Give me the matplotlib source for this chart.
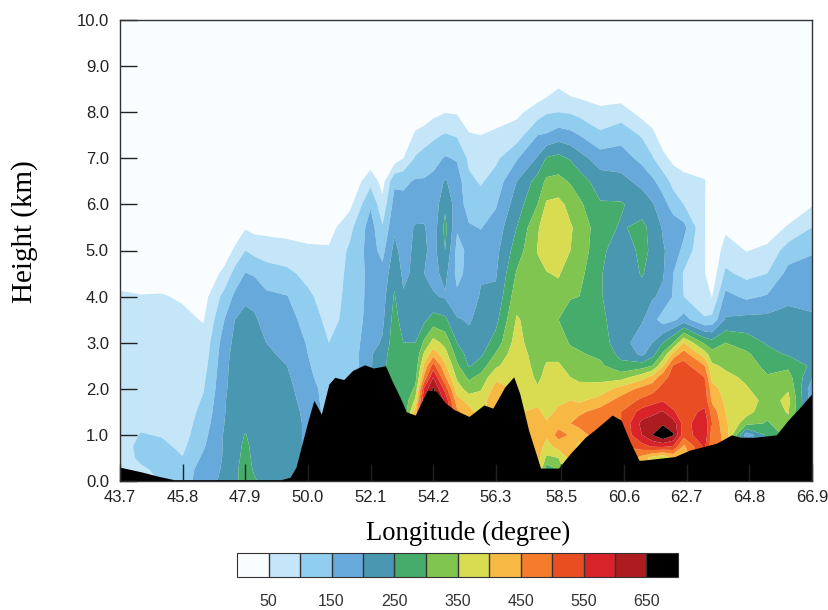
import numpy as np
import matplotlib
matplotlib.use("Agg")
import matplotlib.pyplot as plt

x_ticks = [43.7, 45.8, 47.9, 50.0, 52.1, 54.2, 56.3, 58.5, 60.6, 62.7, 64.8, 66.9]
y_ticks = [0, 1, 2, 3, 4, 5, 6, 7, 8, 9, 10]
bar_ticks = [50, 150, 250, 350, 450, 550, 650]

levels = [0, 50, 100, 150, 200, 250, 300, 350, 400, 450, 500, 550, 600, 650, 2000]
colors = ["#F9FDFF", "#C4E6F8", "#90CDEE", "#68A9DC", "#4A97B1", "#45AC6B", "#80C54F",
          "#D9DC50", "#F7B944", "#F57C2C", "#E84E22", "#D8232A", "#AD1C1F", "#000000"]

# terrain profile
terrain_lon = [43.7, 44.4, 45.0, 45.5, 45.8, 49.1, 49.4, 49.6, 49.8, 50.0, 50.2, 50.45, 50.7, 50.9, 51.2,
               51.5, 51.9, 52.2, 52.6, 52.8, 53.1, 53.3, 53.6, 53.8, 54.0, 54.3, 54.6, 54.9, 55.4, 55.6,
               55.9, 56.2, 56.6, 56.9, 57.1, 57.4, 57.8, 58.4, 58.8, 59.3, 59.6, 60.2, 60.5, 60.8, 61.1,
               61.2, 62.3, 62.8, 63.7, 64.2, 64.5, 65.0, 65.7, 66.1, 66.5, 66.9]
terrain_h = [0.3, 0.2, 0.1, 0.03, 0.03, 0.03, 0.08, 0.3, 0.8, 1.3, 1.75, 1.45, 2.1, 2.25, 2.2,
             2.4, 2.52, 2.45, 2.5, 2.2, 1.8, 1.5, 1.43, 1.7, 1.97, 1.95, 1.7, 1.55, 1.4, 1.5,
             1.65, 1.58, 2.04, 2.26, 1.9, 1.1, 0.28, 0.28, 0.6, 0.95, 1.1, 1.43, 1.32, 0.85, 0.45,
             0.45, 0.53, 0.67, 0.82, 1.0, 0.95, 0.95, 1.0, 1.32, 1.6, 1.9]

heights = [0, 0.25, 0.5, 0.75, 1, 1.25, 1.5, 1.75, 2, 2.25, 2.5, 2.75, 3, 3.5, 4, 4.5, 5, 5.5, 6, 6.5, 7, 7.5, 8, 8.5, 9, 10]
lons = [43.7, 44.4, 45.1, 45.8, 46.5, 47.2, 47.55, 47.9, 48.2, 48.6, 49.3, 50.0, 50.7, 51.4, 52.1,
        52.5, 52.9, 53.2, 53.6, 53.9, 54.2, 54.6, 55.0, 55.4, 55.8, 56.3, 57.0, 57.7, 58.0,
        58.4, 58.8, 59.1, 59.8, 60.5, 61.2, 61.55, 61.9, 62.25, 62.6, 63.3, 63.55, 64.0, 64.7, 65.4, 66.1, 66.9]

# one row per longitude, going up in height
refl = np.array([
    [60, 60, 70, 75, 75, 75, 75, 75, 75, 75, 75, 75, 75, 70, 57, 30, 15, 5, 0, 0, 0, 0, 0, 0, 0, 0],
    [70, 90, 112, 115, 103, 90, 80, 78, 76, 75, 75, 75, 75, 70, 52, 30, 15, 5, 0, 0, 0, 0, 0, 0, 0, 0],
    [105, 115, 115, 110, 97, 85, 80, 78, 75, 75, 75, 75, 75, 70, 53, 30, 15, 5, 0, 0, 0, 0, 0, 0, 0, 0],
    [115, 112, 102, 90, 80, 75, 72, 70, 70, 70, 70, 70, 68, 60, 45, 25, 10, 0, 0, 0, 0, 0, 0, 0, 0, 0],
    [190, 180, 160, 145, 135, 125, 115, 105, 97, 90, 80, 72, 65, 47, 30, 15, 5, 0, 0, 0, 0, 0, 0, 0, 0, 0],
    [205, 205, 205, 205, 205, 200, 197, 195, 190, 187, 185, 180, 175, 150, 118, 62, 25, 5, 0, 0, 0, 0, 0, 0, 0, 0],
    [240, 240, 235, 232, 232, 230, 228, 228, 226, 224, 222, 218, 212, 200, 160, 118, 58, 20, 0, 0, 0, 0, 0, 0, 0, 0],
    [270, 270, 265, 260, 252, 240, 238, 235, 232, 230, 228, 225, 222, 212, 192, 152, 100, 45, 10, 0, 0, 0, 0, 0, 0, 0],
    [255, 245, 240, 238, 236, 235, 234, 232, 230, 228, 225, 222, 218, 208, 185, 145, 85, 35, 5, 0, 0, 0, 0, 0, 0, 0],
    [235, 235, 235, 235, 235, 235, 232, 230, 228, 225, 215, 207, 200, 180, 160, 125, 75, 35, 5, 0, 0, 0, 0, 0, 0, 0],
    [225, 225, 225, 225, 225, 225, 225, 222, 215, 208, 200, 192, 187, 170, 152, 112, 70, 30, 5, 0, 0, 0, 0, 0, 0, 0],
    [190, 190, 190, 190, 190, 190, 185, 175, 170, 162, 156, 150, 145, 130, 110, 85, 58, 30, 5, 0, 0, 0, 0, 0, 0, 0],
    [130, 130, 130, 130, 130, 130, 130, 130, 130, 120, 112, 105, 100, 85, 75, 68, 56, 30, 10, 0, 0, 0, 0, 0, 0, 0],
    [130, 130, 130, 130, 130, 130, 130, 130, 130, 130, 115, 115, 115, 115, 115, 112, 108, 85, 35, 5, 0, 0, 0, 0, 0, 0],
    [195, 195, 195, 195, 195, 195, 195, 195, 195, 195, 195, 195, 185, 170, 165, 165, 170, 172, 145, 85, 15, 0, 0, 0, 0, 0],
    [235, 235, 235, 235, 235, 235, 235, 235, 235, 235, 235, 225, 205, 190, 180, 165, 135, 105, 65, 30, 5, 0, 0, 0, 0, 0],
    [270, 270, 270, 270, 270, 270, 270, 270, 270, 280, 285, 285, 280, 270, 255, 235, 215, 190, 170, 140, 20, 0, 0, 0, 0, 0],
    [255, 255, 255, 255, 255, 255, 255, 255, 255, 255, 255, 253, 250, 225, 205, 190, 180, 175, 165, 140, 50, 5, 0, 0, 0, 0],
    [420, 420, 420, 420, 420, 420, 420, 360, 310, 280, 265, 255, 250, 225, 215, 210, 210, 205, 170, 155, 105, 60, 10, 0, 0, 0],
    [600, 600, 600, 600, 600, 600, 600, 600, 560, 460, 410, 360, 310, 240, 215, 200, 210, 205, 175, 155, 120, 75, 15, 0, 0, 0],
    [660, 660, 660, 660, 660, 660, 660, 660, 660, 600, 520, 430, 370, 270, 205, 185, 180, 170, 165, 165, 130, 90, 35, 0, 0, 0],
    [590, 590, 590, 590, 590, 590, 590, 590, 530, 455, 410, 370, 335, 260, 195, 215, 250, 265, 240, 205, 155, 105, 48, 5, 0, 0],
    [460, 460, 460, 460, 460, 460, 460, 420, 375, 340, 310, 280, 250, 205, 160, 135, 135, 155, 175, 175, 145, 95, 45, 0, 0, 0],
    [420, 420, 420, 420, 420, 420, 420, 380, 325, 290, 245, 230, 215, 195, 175, 165, 160, 155, 130, 110, 90, 55, 15, 0, 0, 0],
    [375, 375, 375, 375, 375, 375, 375, 375, 345, 315, 275, 240, 225, 215, 205, 195, 170, 148, 120, 95, 75, 50, 10, 0, 0, 0],
    [440, 440, 440, 440, 440, 440, 440, 440, 420, 390, 340, 305, 270, 235, 210, 195, 185, 170, 145, 120, 90, 60, 25, 0, 0, 0],
    [395, 395, 395, 395, 395, 395, 395, 395, 395, 395, 390, 385, 375, 355, 330, 305, 275, 250, 225, 200, 145, 75, 38, 5, 0, 0],
    [420, 420, 420, 430, 430, 425, 410, 385, 355, 340, 330, 320, 305, 325, 335, 340, 352, 345, 300, 270, 205, 150, 75, 15, 0, 0],
    [270, 270, 340, 380, 410, 405, 385, 375, 370, 365, 355, 340, 325, 325, 335, 348, 370, 375, 358, 310, 255, 155, 95, 25, 0, 0],
    [300, 300, 350, 420, 470, 430, 410, 390, 385, 375, 355, 340, 325, 300, 335, 354, 375, 385, 365, 315, 265, 175, 100, 52, 0, 0],
    [420, 420, 420, 430, 445, 450, 425, 400, 370, 350, 335, 315, 295, 265, 305, 330, 350, 355, 335, 295, 245, 165, 95, 30, 0, 0],
    [385, 385, 385, 385, 420, 470, 440, 390, 365, 340, 325, 305, 290, 275, 300, 315, 330, 335, 310, 275, 220, 150, 85, 25, 0, 0],
    [490, 490, 490, 490, 490, 490, 470, 420, 370, 335, 310, 290, 275, 265, 255, 255, 265, 270, 255, 225, 175, 110, 65, 10, 0, 0],
    [500, 500, 500, 500, 500, 500, 500, 470, 420, 330, 265, 235, 220, 215, 212, 210, 215, 245, 255, 215, 175, 130, 75, 10, 0, 0],
    [430, 430, 430, 530, 600, 615, 570, 510, 465, 380, 275, 190, 175, 205, 225, 255, 265, 262, 228, 185, 135, 95, 30, 0, 0, 0],
    [380, 380, 380, 555, 650, 630, 585, 530, 480, 420, 300, 230, 200, 170, 205, 225, 240, 235, 205, 160, 105, 65, 15, 0, 0, 0],
    [350, 350, 350, 560, 700, 640, 605, 545, 520, 480, 395, 310, 250, 125, 190, 205, 205, 195, 170, 125, 65, 20, 0, 0, 0, 0],
    [400, 400, 400, 545, 655, 625, 555, 530, 525, 520, 505, 420, 300, 140, 145, 150, 180, 180, 125, 85, 35, 0, 0, 0, 0, 0],
    [400, 400, 400, 440, 520, 530, 530, 530, 530, 530, 520, 475, 400, 170, 100, 95, 135, 165, 100, 70, 20, 0, 0, 0, 0, 0],
    [560, 560, 560, 560, 590, 585, 560, 530, 520, 500, 450, 375, 290, 105, 70, 52, 53, 53, 53, 55, 5, 0, 0, 0, 0, 0],
    [470, 470, 470, 470, 470, 500, 480, 440, 420, 385, 360, 320, 270, 115, 48, 20, 10, 0, 0, 0, 0, 0, 0, 0, 0, 0],
    [440, 440, 440, 440, 440, 410, 400, 390, 380, 365, 340, 320, 300, 205, 165, 110, 72, 40, 15, 0, 0, 0, 0, 0, 0, 0],
    [170, 170, 170, 170, 170, 320, 370, 385, 355, 340, 325, 310, 275, 215, 140, 85, 48, 20, 0, 0, 0, 0, 0, 0, 0, 0],
    [260, 260, 260, 260, 260, 295, 315, 325, 320, 305, 285, 265, 245, 215, 155, 100, 60, 25, 0, 0, 0, 0, 0, 0, 0, 0],
    [320, 320, 320, 320, 320, 330, 355, 365, 345, 320, 290, 245, 235, 215, 190, 165, 125, 55, 15, 0, 0, 0, 0, 0, 0, 0],
    [170, 170, 170, 170, 170, 170, 170, 170, 170, 205, 240, 225, 220, 205, 190, 170, 145, 100, 45, 10, 0, 0, 0, 0, 0, 0],
], dtype=float)

plt.rcParams["font.family"] = ["Liberation Sans", "DejaVu Sans"]
fig = plt.figure(figsize=(8.29, 6.10), dpi=100)
ax = fig.add_axes([120 / 829, 1 - 481 / 610, 692 / 829, 461 / 610])
ax.set_facecolor(colors[0])

cf = ax.contourf(lons, heights, refl.T, levels=levels, colors=colors, antialiased=True)
ax.fill_between(terrain_lon, 0, terrain_h, color="black", lw=0)

ax.set_xlim(43.7, 66.9)
ax.set_ylim(0, 10)
ax.set_xticks(x_ticks)
ax.set_xticklabels(["%.1f" % v for v in x_ticks], fontsize=12, color="#222222")
ax.set_yticks(y_ticks)
ax.set_yticklabels(["%.1f" % v for v in y_ticks], fontsize=12, color="#222222")
ax.tick_params(axis="both", direction="in", length=12, width=1, color="#222222")
ax.tick_params(axis="x", pad=6.5)
ax.tick_params(axis="y", pad=8)
for s in ax.spines.values():
    s.set_color("#333333")
    s.set_linewidth(1)

fig.text(468 / 829, 1 - 533 / 610, "Longitude (degree)", family="Liberation Serif", fontsize=19.2,
         ha="center", va="center", color="black")
fig.text(25 / 829, 1 - 232 / 610, "Height (km)", family="Liberation Serif", fontsize=21,
         rotation=90, ha="center", va="center", color="black")

cax = fig.add_axes([237 / 829, 1 - 577 / 610, 441 / 829, 24 / 610])
cb = fig.colorbar(cf, cax=cax, orientation="horizontal", spacing="uniform", drawedges=True)
cb.set_ticks(bar_ticks)
cb.set_ticklabels([str(v) for v in bar_ticks], fontsize=11.5, color="#333333")
cb.ax.tick_params(length=0, pad=12)
cb.outline.set_edgecolor("#333333")
cb.dividers.set_color("#333333")
cb.dividers.set_linewidth(1)

fig.savefig("out.png", dpi=100)
